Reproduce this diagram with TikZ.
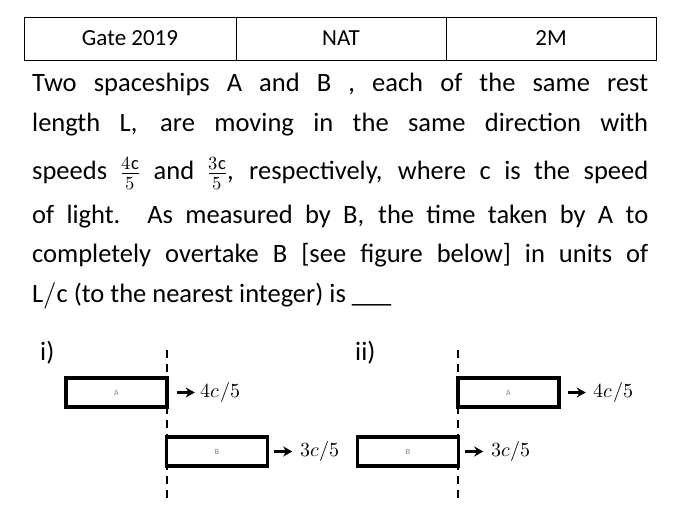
\documentclass[tikz,border=0pt]{standalone}
\usepackage{fontspec}
\setmainfont{Carlito}
\usepackage{amsmath}
\usepackage{unicode-math}
\setmathfont{Latin Modern Math}
\usetikzlibrary{positioning,arrows.meta}

\newcommand{\qline}[1]{\makebox[616pt][s]{#1}}

\begin{document}
\begin{tikzpicture}[x=1pt,y=-1pt,
        cell/.style={draw,line width=0.8pt,minimum height=43pt,font=\fontsize{23}{25}\selectfont},
        ship/.style={draw,line width=3.5pt,minimum width=101pt,minimum height=29pt,inner sep=0pt,font=\fontsize{8}{9}\selectfont\color{gray}},
        qtext/.style={anchor=base west,inner sep=0pt,font=\fontsize{26.5}{30}\selectfont},
        speed/.style={anchor=west,inner sep=0pt,font=\fontsize{20}{22}\selectfont},
        marker/.style={line width=2.2pt,dash pattern=on 8pt off 6pt},
        arr/.style={-{Stealth[length=9pt,width=10pt]},line width=2.4pt}]
    \useasboundingbox (0,0) rectangle (680,529);

    % header table
    \node[cell,minimum width=212pt] (gate) at (130,38.5) {Gate 2019};
    \node[cell,minimum width=210pt] (nat)  at (341,38.5) {NAT};
    \node[cell,minimum width=210pt] (mark) at (551,38.5) {2M};

    % question
    \node[qtext] (q1) at (32,92)  {\qline{Two spaceships A and B , each of the same rest}};
    \node[qtext] (q2) at (32,132) {\qline{length $\mathrm{L}$, are moving in the same direction with}};
    \node[qtext] (q3) at (32,180) {\qline{speeds $\frac{4\mathrm{c}}{5}$ and $\frac{3\mathrm{c}}{5}$, respectively, where $\mathrm{c}$ is the speed}};
    \node[qtext] (q4) at (32,224) {\qline{of light. As measured by $\mathrm{B}$, the time taken by A to}};
    \node[qtext] (q5) at (32,263) {\qline{completely overtake B [see figure below] in units of}};
    \node[qtext] (q6) at (32,303) {$\mathrm{L/c}$ (to the nearest integer) is \_\_\_};

    % case i)
    \node[qtext] (case1) at (40,360) {i)};
    \draw[marker] (167,350) coordinate (t1) -- (167,502) coordinate (b1);
    \node[ship] (A1) at (116.5,392.5) {A};
    \node[ship] (B1) at (217,451.5) {B};
    \draw[arr] ([xshift=8pt]A1.east) -- ++(18,0) coordinate (a1);
    \node[speed] (vA1) at ([xshift=6pt]a1) {$4c/5$};
    \draw[arr] ([xshift=5pt]B1.east) -- ++(18,0) coordinate (b1e);
    \node[speed] (vB1) at ([xshift=8pt]b1e) {$3c/5$};

    % case ii)
    \node[qtext] (case2) at (355,360) {ii)};
    \draw[marker] (458,350) coordinate (t2) -- (458,502) coordinate (b2);
    \node[ship] (A2) at (508.5,392.5) {A};
    \node[ship] (B2) at (408,451.5) {B};
    \draw[arr] ([xshift=7pt]A2.east) -- ++(18,0) coordinate (a2);
    \node[speed] (vA2) at ([xshift=8pt]a2) {$4c/5$};
    \draw[arr] ([xshift=5pt]B2.east) -- ++(18,0) coordinate (b2e);
    \node[speed] (vB2) at ([xshift=8pt]b2e) {$3c/5$};
\end{tikzpicture}
\end{document}
